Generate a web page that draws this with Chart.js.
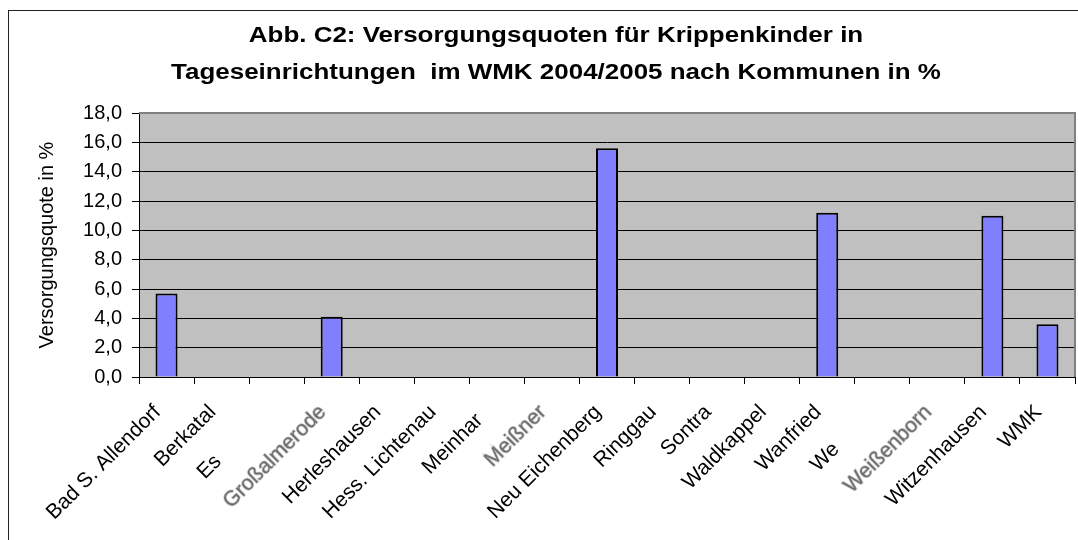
<!DOCTYPE html>
<html>
<head>
<meta charset="utf-8">
<script src="https://cdn.jsdelivr.net/npm/chart.js@4"></script>
<style>
  html, body { margin: 0; padding: 0; background: #fff; overflow: hidden; }
  #wrap { position: relative; width: 1078px; height: 540px; }
  #frame { position: absolute; left: 8px; top: 10px; width: 1200px; height: 700px; border: 1px solid #222; pointer-events: none; }
  #title { position: absolute; left: 34px; right: 0; top: 16px; text-align: center;
           font: bold 22px "Liberation Sans", Arial, sans-serif; line-height: 37px; color: #000;
           transform: scaleX(1.18); transform-origin: 522px 0; }
  canvas { position: absolute; left: 0; top: 0; }
</style>
</head>
<body>
<div id="wrap">
  <canvas id="chart" width="1078" height="540"></canvas>
  <div id="frame"></div>
  <div id="title">Abb. C2: Versorgungsquoten für Krippenkinder in<br>Tageseinrichtungen&nbsp; im WMK 2004/2005 nach Kommunen in %</div>
</div>
<script>
// Kommunen as they show in the original (three names are cut off, three blurred)
const kommunen = ["Bad S. Allendorf", "Berkatal", "Es", "Großalmerode", "Herleshausen",
  "Hess. Lichtenau", "Meinhar", "Meißner", "Neu Eichenberg", "Ringgau", "Sontra",
  "Waldkappel", "Wanfried", "We", "Weißenborn", "Witzenhausen", "WMK"];
const quoten = [5.7, null, null, 4.1, null, null, null, null, 15.6, null, null, null, 11.2, null, null, 11.0, 3.6];
const blurred = ["Großalmerode", "Meißner", "Weißenborn"];
// the hidden rest of the cut-off names, only used to keep the visible part in place
const cutRest = { "Es": "chwege", "Meinhar": "d", "We": "hretal" };

const yTicks = { min: 0, max: 18, step: 2 };

const font = "'Liberation Sans', Arial";
const xFontSize = 21;

// pad cut-off names with blanks so they sit where the full name would start
const measure = document.createElement("canvas").getContext("2d");
measure.font = xFontSize + "px " + font;
function padLabel(label) {
  const rest = cutRest[label];
  if (!rest) return label;
  const n = Math.round(measure.measureText(rest).width / measure.measureText("\u00a0").width);
  return label + "\u00a0".repeat(n);
}

const isBlurred = (c) => blurred.includes(kommunen[c.index]);

// gray plot background + gray frame around plot area
const plotBg = {
  id: "plotBg",
  beforeDraw(chart) {
    const { ctx, chartArea: a } = chart;
    ctx.save();
    ctx.fillStyle = "#c0c0c0";
    ctx.fillRect(a.left, a.top, a.right - a.left, a.bottom - a.top);
    ctx.restore();
  },
  afterDatasetsDraw(chart) {
    const { ctx, chartArea: a } = chart;
    ctx.save();
    ctx.strokeStyle = "#808080";
    ctx.lineWidth = 2;
    ctx.beginPath();
    ctx.moveTo(a.left, a.top);
    ctx.lineTo(a.right, a.top);
    ctx.lineTo(a.right, a.bottom);
    ctx.stroke();
    ctx.restore();
  }
};

new Chart(document.getElementById("chart"), {
  type: "bar",
  data: {
    labels: kommunen,
    datasets: [{
      label: "Versorgungsquote",
      data: quoten,
      backgroundColor: "#8080ff",
      borderColor: "#000",
      borderWidth: 2,
      barPercentage: 0.4,
      categoryPercentage: 1.0
    }]
  },
  options: {
    responsive: false,
    animation: false,
    layout: { padding: { top: 113, right: 3, left: 0, bottom: 0 } },
    plugins: {
      legend: { display: false },
      tooltip: { enabled: false },
      title: { display: false }
    },
    scales: {
      x: {
        afterFit: (s) => { s.height = 163; s.paddingLeft = 0; s.paddingRight = 0; },
        grid: { display: true, drawOnChartArea: false, offset: true, color: "#000", tickLength: 7 },
        border: { color: "#000", width: 1 },
        ticks: {
          minRotation: 45, maxRotation: 45, autoSkip: false, padding: 16, labelOffset: -9,
          color: (c) => isBlurred(c) ? "#6e6e6e" : "#000",
          textStrokeColor: (c) => isBlurred(c) ? "rgba(130,130,130,0.45)" : "#000",
          textStrokeWidth: (c) => isBlurred(c) ? 1.5 : 0,
          font: { family: font, size: xFontSize },
          callback: (v, i) => padLabel(kommunen[i])
        }
      },
      y: {
        min: yTicks.min, max: yTicks.max,
        afterFit: (s) => { s.width = 139; s.paddingTop = 0; s.paddingBottom = 0; },
        grid: {
          color: (c) => c.tick && c.tick.value === yTicks.max ? "#808080" : "#000",
          tickColor: "#000", tickLength: 7
        },
        border: { color: "#000", width: 1 },
        ticks: {
          stepSize: yTicks.step, padding: 10, color: "#000",
          font: { family: font, size: 20 },
          callback: (v) => v.toFixed(1).replace(".", ",")
        },
        title: {
          display: true, text: "Versorgungsquote in %", color: "#000",
          font: { family: font, size: 20 },
          padding: { top: 35 }
        }
      }
    }
  },
  plugins: [plotBg]
});
</script>
</body>
</html>
